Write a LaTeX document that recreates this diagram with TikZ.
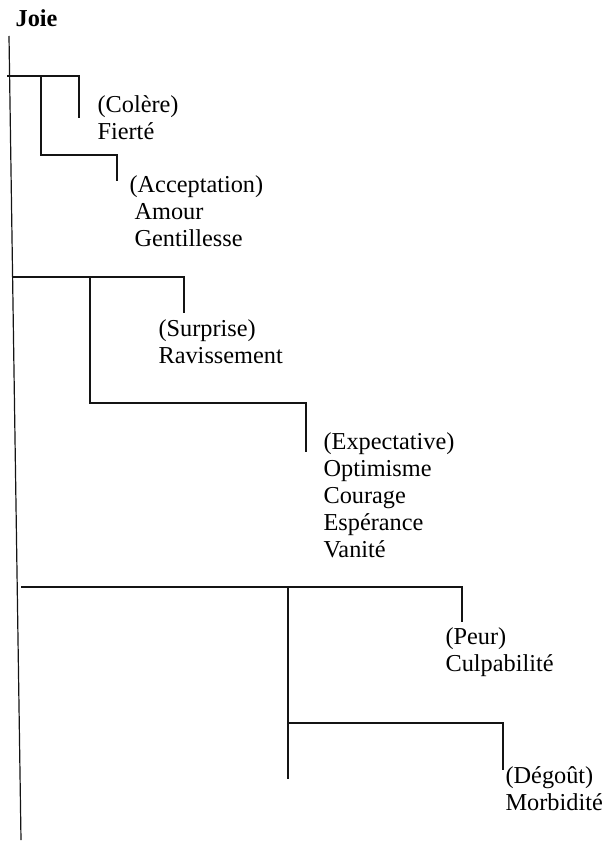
\documentclass[tikz,border=0pt]{standalone}
\usepackage{fontspec}
\setmainfont{Liberation Serif}
\usetikzlibrary{positioning,calc}

\begin{document}
\begin{tikzpicture}[x=1pt,y=-1pt,line width=1.2pt,
    emo/.style={anchor=north west,inner sep=0pt,align=left,font=\fontsize{24.3}{27}\selectfont}]

    \useasboundingbox (0,0) rectangle (605,843);
    \definecolor{treecolor}{rgb}{0.08,0.08,0.08}

    \node(joie) [emo,anchor=base west,font=\fontsize{24.3}{27}\selectfont\bfseries] at (15,27) {Joie};
    \coordinate (trunktop) at (9,36);
    \coordinate (trunkbottom) at (21,840);
    \draw[treecolor] (trunktop) -- (trunkbottom);

    % first group
    \node(colere) [emo] at (97,95) {(Colère)\\Fierté};
    \node(accept) [emo] at (129,175) {(Acceptation)\\\hspace*{5pt}Amour\\\hspace*{5pt}Gentillesse};
    \coordinate (b1) at (7,76);
    \coordinate (b1s) at (41,76);
    \coordinate (colereend) at (79,118);
    \coordinate (acceptend) at (117,181);
    \draw[treecolor] (b1) -| (colereend);
    \draw[treecolor] (b1s) -- ++(0,79) -| (acceptend);

    % second group
    \node(surprise) [emo] at (158,319) {(Surprise)\\Ravissement};
    \node(expect) [emo] at (323,432) {(Expectative)\\Optimisme\\Courage\\Espérance\\Vanité};
    \coordinate (b2) at (12,277);
    \coordinate (b2s) at (90,277);
    \coordinate (surpriseend) at (184,313);
    \coordinate (expectend) at (306,452);
    \draw[treecolor] (b2) -| (surpriseend);
    \draw[treecolor] (b2s) -- ++(0,126) -| (expectend);

    % third group
    \node(peur) [emo] at (445,627) {(Peur)\\Culpabilité};
    \node(degout) [emo] at (505,766) {(Dégoût)\\Morbidité};
    \coordinate (b3) at (21,587);
    \coordinate (b3s) at (288,587);
    \coordinate (b3e) at (288,779);
    \coordinate (peurend) at (462,622);
    \coordinate (degoutend) at (503,770);
    \draw[treecolor] (b3) -| (peurend);
    \draw[treecolor] (b3s) -- (b3e);
    \draw[treecolor] (b3s) ++(0,136) -| (degoutend);

\end{tikzpicture}
\end{document}
